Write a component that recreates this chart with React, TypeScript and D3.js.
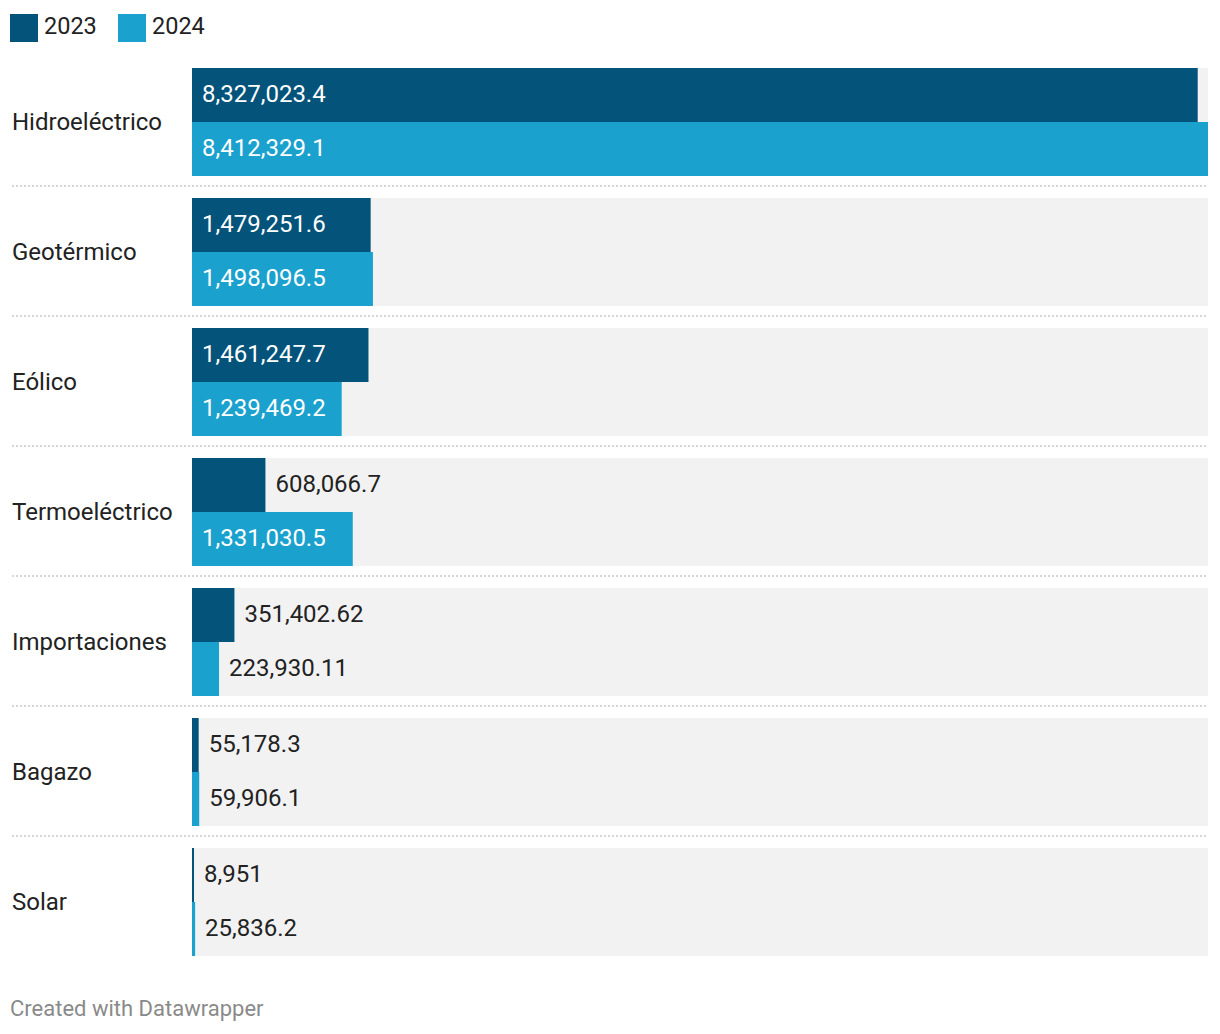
import React from "react";
import * as d3 from "d3";

const categories = ["Hidroeléctrico", "Geotérmico", "Eólico", "Termoeléctrico", "Importaciones", "Bagazo", "Solar"];
const values2023 = [8327023.4, 1479251.6, 1461247.7, 608066.7, 351402.62, 55178.3, 8951];
const values2024 = [8412329.1, 1498096.5, 1239469.2, 1331030.5, 223930.11, 59906.1, 25836.2];
const labels2023 = ["8,327,023.4", "1,479,251.6", "1,461,247.7", "608,066.7", "351,402.62", "55,178.3", "8,951"];
const labels2024 = ["8,412,329.1", "1,498,096.5", "1,239,469.2", "1,331,030.5", "223,930.11", "59,906.1", "25,836.2"];
const seriesNames = ["2023", "2024"];
const colors = ["#03537b", "#1aa1ce"];

const W = 1220, H = 1034;
const x0 = 192, x1 = 1208;
const top = 68, groupStep = 130, barH = 54;
const FONT = "Roboto, sans-serif";

export default function App() {
  const x = d3.scaleLinear().domain([0, d3.max(values2024)!]).range([x0, x1]);
  const y = d3.scaleBand().domain(categories).range([top, top + groupStep * categories.length]).paddingInner(0).paddingOuter(0);
  const series = [values2023, values2024];
  const labels = [labels2023, labels2024];
  return (
    <svg width={W} height={H} style={{ position: "absolute", left: 0, top: 0, background: "#fff" }} fontFamily={FONT}>
      {seriesNames.map((s, i) => (
        <g key={s} transform={`translate(${10 + i * 108},14)`}>
          <rect width={28} height={28} fill={colors[i]} />
          <text x={34} y={20} fontSize={23.5} fill="#222">{s}</text>
        </g>
      ))}
      {categories.map((c, gi) => {
        const gy = y(c)!;
        return (
          <g key={c}>
            <text x={12} y={gy + barH + 7.5} fontSize={24} fill="#222">{c}</text>
            <rect x={x0} y={gy} width={x1 - x0} height={barH * 2} fill="#f2f2f2" />
            {series.map((vals, si) => {
              const bw = x(vals[gi]) - x0;
              const by = gy + si * barH;
              const lbl = labels[si][gi];
              const inside = bw > 140;
              return (
                <g key={si}>
                  <rect x={x0} y={by} width={Math.max(bw, 2)} height={barH} fill={colors[si]} />
                  <text x={inside ? x0 + 10 : x0 + Math.max(bw, 2) + 10} y={by + barH / 2 + 7} fontSize={24} fill={inside ? "#fff" : "#222"}>{lbl}</text>
                </g>
              );
            })}
            {gi < categories.length - 1 && (
              <line x1={12} x2={x1} y1={gy + groupStep - 12} y2={gy + groupStep - 12} stroke="#d6d6d6" strokeWidth={2} strokeDasharray="2,2" />
            )}
          </g>
        );
      })}
      <text x={10} y={1016} fontSize={22} fill="#8a8a8a">Created with Datawrapper</text>
    </svg>
  );
}
